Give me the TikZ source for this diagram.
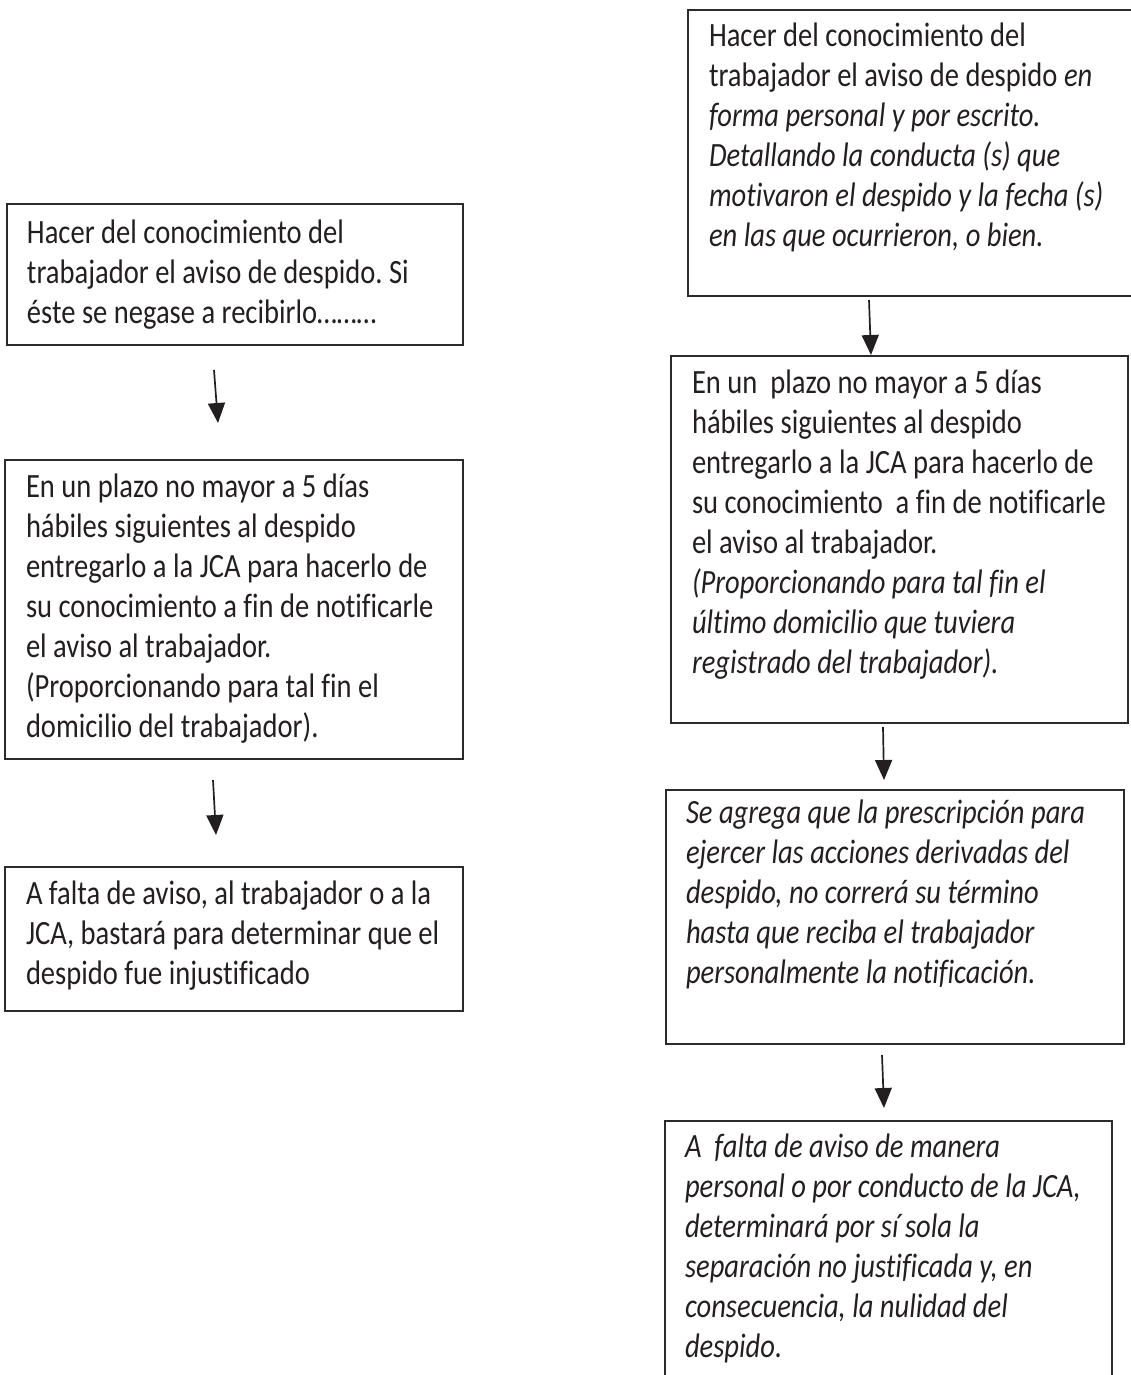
\documentclass[tikz,border=0pt]{standalone}
\usepackage{fontspec}
\setmainfont{Carlito}[FakeStretch=0.84,Ligatures=NoCommon]
\usetikzlibrary{arrows.meta}
\definecolor{boxcol}{HTML}{2B2B2B}
\definecolor{txtcol}{HTML}{231F20}
\frenchspacing
\begin{document}
\begin{tikzpicture}[x=1pt,y=-1pt,
  box/.style={draw=boxcol, line width=2pt, inner sep=0pt, outer sep=0pt, anchor=north west},
  txt/.style={anchor=base west, inner sep=0pt, outer sep=0pt, text=txtcol, font=\fontsize{34}{40}\selectfont},
  arr/.style={line width=1.7pt, draw=txtcol, -{Triangle[width=17pt,length=20pt]}}]
\useasboundingbox (0,0) rectangle (1131,1375);
\clip (0,0) rectangle (1131,1375);
% left column
\node[box, minimum width=456pt, minimum height=141pt] (L1) at (7,204) {};
\node[txt] (L1t) at (27,243) {\parbox[t]{600pt}{\raggedright\frenchspacing Hacer del conocimiento del\\ trabajador el aviso de despido. Si\\ éste se negase a recibirlo………}};
\node[box, minimum width=458pt, minimum height=299pt] (L2) at (5,460) {};
\node[txt] (L2t) at (26,497) {\parbox[t]{600pt}{\raggedright\frenchspacing En un plazo no mayor a 5 días\\ hábiles siguientes al despido\\ entregarlo a la JCA para hacerlo de\\ su conocimiento a fin de notificarle\\ el aviso al trabajador.\\ (Proporcionando para tal fin el\\ domicilio del trabajador).}};
\node[box, minimum width=458pt, minimum height=144pt] (L3) at (5,867) {};
\node[txt] (L3t) at (26,904) {\parbox[t]{600pt}{\raggedright\frenchspacing A falta de aviso, al trabajador o a la\\ JCA, bastará para determinar que el\\ despido fue injustificado}};
% right column
\node[box, minimum width=480pt, minimum height=286pt] (R1) at (688,10) {};
\node[txt] (R1t) at (709,47) {\parbox[t]{600pt}{\raggedright\frenchspacing Hacer del conocimiento del\\ trabajador el aviso de despido \textit{en}\\ \textit{forma personal y por escrito.}\\ \textit{Detallando la conducta (s) que}\\ \textit{motivaron el despido y la fecha (s)}\\ \textit{en las que ocurrieron, o bien.}}};
\node[box, minimum width=457pt, minimum height=367pt] (R2) at (671,356) {};
\node[txt] (R2t) at (692,393) {\parbox[t]{600pt}{\raggedright\frenchspacing En un\ \ plazo no mayor a 5 días\\ hábiles siguientes al despido\\ entregarlo a la JCA para hacerlo de\\ su conocimiento\ \ a fin de notificarle\\ el aviso al trabajador.\\ \textit{(Proporcionando para tal fin el}\\ \textit{último domicilio que tuviera}\\ \textit{registrado del trabajador).}}};
\node[box, minimum width=458pt, minimum height=254pt] (R3) at (666,790) {};
\node[txt] (R3t) at (686,823) {\parbox[t]{600pt}{\raggedright\frenchspacing\itshape Se agrega que la prescripción para\\ ejercer las acciones derivadas del\\ despido, no correrá su término\\ hasta que reciba el trabajador\\ personalmente la notificación.}};
\node[box, minimum width=447pt, minimum height=320pt] (R4) at (665,1121) {};
\node[txt] (R4t) at (685,1157) {\parbox[t]{600pt}{\raggedright\frenchspacing\itshape A\ \ falta de aviso de manera\\ personal o por conducto de la JCA,\\ determinará por sí sola la\\ separación no justificada y, en\\ consecuencia, la nulidad del\\ despido.}};
% arrows
\coordinate (a1s) at (214,370); \coordinate (a1e) at (218,423);
\coordinate (a2s) at (213,780); \coordinate (a2e) at (216,835);
\coordinate (a3s) at (869,300); \coordinate (a3e) at (871,355);
\coordinate (a4s) at (883,727); \coordinate (a4e) at (884,780);
\coordinate (a5s) at (882,1055); \coordinate (a5e) at (884,1108);
\draw[arr] (a1s) -- (a1e);
\draw[arr] (a2s) -- (a2e);
\draw[arr] (a3s) -- (a3e);
\draw[arr] (a4s) -- (a4e);
\draw[arr] (a5s) -- (a5e);
\end{tikzpicture}
\end{document}
